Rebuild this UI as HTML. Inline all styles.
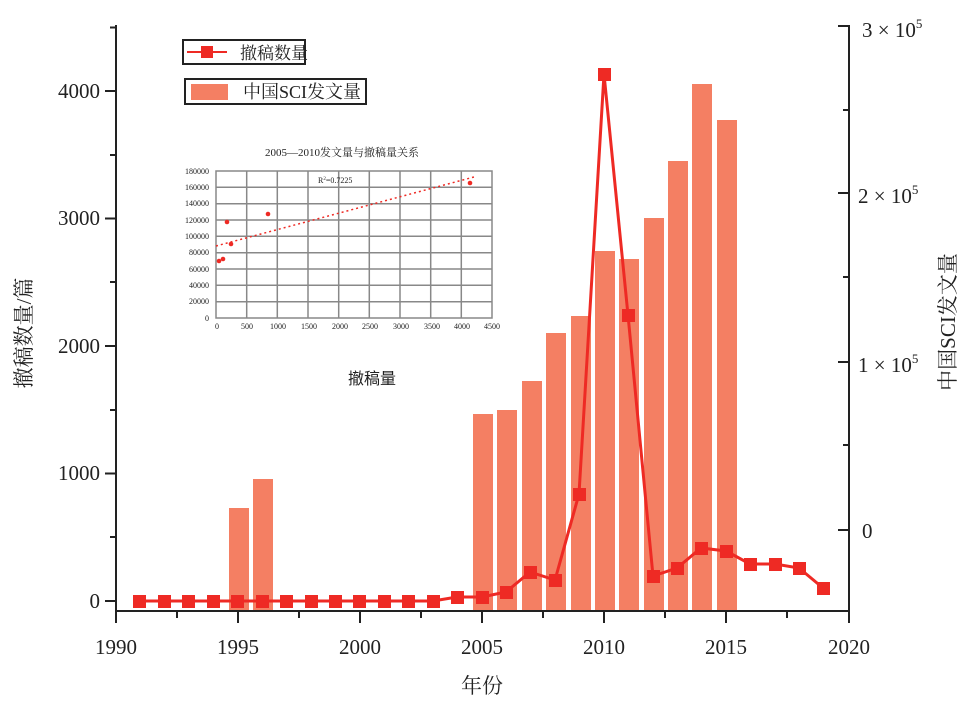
<!DOCTYPE html>
<html><head><meta charset="utf-8"><style>
html,body{margin:0;padding:0;background:#fff}
svg{display:block}
text{font-family:"Liberation Serif","Noto Serif CJK SC","Noto Sans CJK SC",serif;fill:#222}
</style></head><body>
<svg width="971" height="714" viewBox="0 0 971 714" xmlns="http://www.w3.org/2000/svg">
<g fill="#f47f63">
<rect x="229" y="508" width="20" height="103"/>
<rect x="253" y="479" width="20" height="132"/>
<rect x="473" y="414" width="20" height="197"/>
<rect x="497" y="410" width="20" height="201"/>
<rect x="522" y="381" width="20" height="230"/>
<rect x="546" y="333" width="20" height="278"/>
<rect x="571" y="316" width="20" height="295"/>
<rect x="595" y="251" width="20" height="360"/>
<rect x="619" y="259" width="20" height="352"/>
<rect x="644" y="218" width="20" height="393"/>
<rect x="668" y="161" width="20" height="450"/>
<rect x="692" y="84" width="20" height="527"/>
<rect x="717" y="120" width="20" height="491"/>
</g>
<polyline fill="none" stroke="#ee2a24" stroke-width="3" points="139,601 164,601 188,601 213,601 237,601 262,601 286,601 311,601 335,601 359,601 384,601 408,601 433,601 457,597 482,597 506,592 530,572 555,580 579,494 604,74 628,315 653,576 677,568 701,548 726,551 750,564 775,564 799,568 823,588"/>
<g fill="#ee2a24">
<rect x="133" y="595" width="13" height="13"/><rect x="158" y="595" width="13" height="13"/><rect x="182" y="595" width="13" height="13"/><rect x="207" y="595" width="13" height="13"/><rect x="231" y="595" width="13" height="13"/><rect x="256" y="595" width="13" height="13"/><rect x="280" y="595" width="13" height="13"/><rect x="305" y="595" width="13" height="13"/><rect x="329" y="595" width="13" height="13"/><rect x="353" y="595" width="13" height="13"/><rect x="378" y="595" width="13" height="13"/><rect x="402" y="595" width="13" height="13"/><rect x="427" y="595" width="13" height="13"/>
<rect x="451" y="591" width="13" height="13"/><rect x="476" y="591" width="13" height="13"/><rect x="500" y="586" width="13" height="13"/><rect x="524" y="566" width="13" height="13"/><rect x="549" y="574" width="13" height="13"/><rect x="573" y="488" width="13" height="13"/><rect x="598" y="68" width="13" height="13"/><rect x="622" y="309" width="13" height="13"/><rect x="647" y="570" width="13" height="13"/><rect x="671" y="562" width="13" height="13"/><rect x="695" y="542" width="13" height="13"/><rect x="720" y="545" width="13" height="13"/><rect x="744" y="558" width="13" height="13"/><rect x="769" y="558" width="13" height="13"/><rect x="793" y="562" width="13" height="13"/><rect x="817" y="582" width="13" height="13"/>
</g>
<g stroke="#222" stroke-width="2" fill="none">
<line x1="116" y1="25" x2="116" y2="612"/>
<line x1="849" y1="25" x2="849" y2="612"/>
<line x1="115" y1="611" x2="850" y2="611"/>
<line x1="105" y1="91" x2="116" y2="91"/><line x1="105" y1="218.5" x2="116" y2="218.5"/><line x1="105" y1="346" x2="116" y2="346"/><line x1="105" y1="473.5" x2="116" y2="473.5"/><line x1="105" y1="601" x2="116" y2="601"/>
<line x1="110" y1="27.5" x2="116" y2="27.5"/><line x1="110" y1="155" x2="116" y2="155"/><line x1="110" y1="282" x2="116" y2="282"/><line x1="110" y1="410" x2="116" y2="410"/><line x1="110" y1="537" x2="116" y2="537"/>
<line x1="838" y1="26" x2="849" y2="26"/><line x1="838" y1="193" x2="849" y2="193"/><line x1="838" y1="362" x2="849" y2="362"/><line x1="838" y1="530" x2="849" y2="530"/>
<line x1="843" y1="110" x2="849" y2="110"/><line x1="843" y1="277" x2="849" y2="277"/><line x1="843" y1="445" x2="849" y2="445"/>
<line x1="116" y1="611" x2="116" y2="623"/><line x1="238" y1="611" x2="238" y2="623"/><line x1="360" y1="611" x2="360" y2="623"/><line x1="482" y1="611" x2="482" y2="623"/><line x1="604" y1="611" x2="604" y2="623"/><line x1="726" y1="611" x2="726" y2="623"/><line x1="849" y1="611" x2="849" y2="623"/>
<line x1="177" y1="611" x2="177" y2="618"/><line x1="299" y1="611" x2="299" y2="618"/><line x1="421" y1="611" x2="421" y2="618"/><line x1="543" y1="611" x2="543" y2="618"/><line x1="665" y1="611" x2="665" y2="618"/><line x1="787" y1="611" x2="787" y2="618"/>
</g>
<g font-size="21" text-anchor="end">
<text x="100" y="98">4000</text><text x="100" y="225">3000</text><text x="100" y="353">2000</text><text x="100" y="480">1000</text><text x="100" y="608">0</text>
</g>
<g font-size="21" text-anchor="middle">
<text x="116" y="654">1990</text><text x="238" y="654">1995</text><text x="360" y="654">2000</text><text x="482" y="654">2005</text><text x="604" y="654">2010</text><text x="726" y="654">2015</text><text x="849" y="654">2020</text>
<text x="482" y="693">年份</text>
</g>
<g font-size="21">
<text x="862" y="37">3 × 10<tspan font-size="13" dy="-9">5</tspan></text>
<text x="858" y="203">2 × 10<tspan font-size="13" dy="-9">5</tspan></text>
<text x="858" y="372">1 × 10<tspan font-size="13" dy="-9">5</tspan></text>
<text x="862" y="538">0</text>
</g>
<text font-size="21" text-anchor="middle" transform="translate(31,333) rotate(-90)">撤稿数量/篇</text>
<text font-size="21" text-anchor="middle" transform="translate(955,322) rotate(-90)">中国SCI发文量</text>
<rect x="183" y="40" width="122" height="24" fill="#fff" stroke="#222" stroke-width="2"/>
<line x1="187" y1="52" x2="227" y2="52" stroke="#ee2a24" stroke-width="2"/>
<rect x="201" y="46" width="12" height="12" fill="#ee2a24"/>
<text x="240" y="59" font-size="17">撤稿数量</text>
<rect x="185" y="79" width="181" height="25" fill="#fff" stroke="#222" stroke-width="2"/>
<rect x="191" y="84" width="37" height="16" fill="#f47f63"/>
<text x="243" y="98" font-size="18">中国SCI发文量</text>
<text x="342" y="156" font-size="11" text-anchor="middle">2005—2010发文量与撤稿量关系</text>
<g stroke="#888" stroke-width="1.5" fill="none">
<rect x="216" y="171" width="276" height="147"/>
<line x1="246.7" y1="171" x2="246.7" y2="318"/><line x1="277.3" y1="171" x2="277.3" y2="318"/><line x1="308" y1="171" x2="308" y2="318"/><line x1="338.7" y1="171" x2="338.7" y2="318"/><line x1="369.3" y1="171" x2="369.3" y2="318"/><line x1="400" y1="171" x2="400" y2="318"/><line x1="430.7" y1="171" x2="430.7" y2="318"/><line x1="461.3" y1="171" x2="461.3" y2="318"/>
<line x1="216" y1="187.3" x2="492" y2="187.3"/><line x1="216" y1="203.7" x2="492" y2="203.7"/><line x1="216" y1="220" x2="492" y2="220"/><line x1="216" y1="236.3" x2="492" y2="236.3"/><line x1="216" y1="252.7" x2="492" y2="252.7"/><line x1="216" y1="269" x2="492" y2="269"/><line x1="216" y1="285.3" x2="492" y2="285.3"/><line x1="216" y1="301.7" x2="492" y2="301.7"/>
</g>
<line x1="216" y1="246" x2="474" y2="177" stroke="#ee2a24" stroke-width="1.5" stroke-dasharray="2,3"/>
<g fill="#ee2a24">
<circle cx="219" cy="261" r="2.3"/><circle cx="223" cy="259" r="2.3"/><circle cx="227" cy="222" r="2.3"/><circle cx="231" cy="244" r="2.3"/><circle cx="268" cy="214" r="2.3"/><circle cx="470" cy="183" r="2.3"/>
</g>
<text x="318" y="183" font-size="8">R<tspan font-size="5" dy="-3">2</tspan><tspan dy="3">=0.7225</tspan></text>
<g font-size="8" text-anchor="end">
<text x="209" y="174">180000</text><text x="209" y="190">160000</text><text x="209" y="206">140000</text><text x="209" y="223">120000</text><text x="209" y="239">100000</text><text x="209" y="255">80000</text><text x="209" y="272">60000</text><text x="209" y="288">40000</text><text x="209" y="304">20000</text><text x="209" y="321">0</text>
</g>
<g font-size="8" text-anchor="middle">
<text x="217" y="329">0</text><text x="247" y="329">500</text><text x="278" y="329">1000</text><text x="309" y="329">1500</text><text x="340" y="329">2000</text><text x="370" y="329">2500</text><text x="401" y="329">3000</text><text x="432" y="329">3500</text><text x="462" y="329">4000</text><text x="492" y="329">4500</text>
</g>
<text x="372" y="384" font-size="16" text-anchor="middle" style="font-family:'Noto Sans CJK SC',sans-serif">撤稿量</text>
</svg>
</body></html>
